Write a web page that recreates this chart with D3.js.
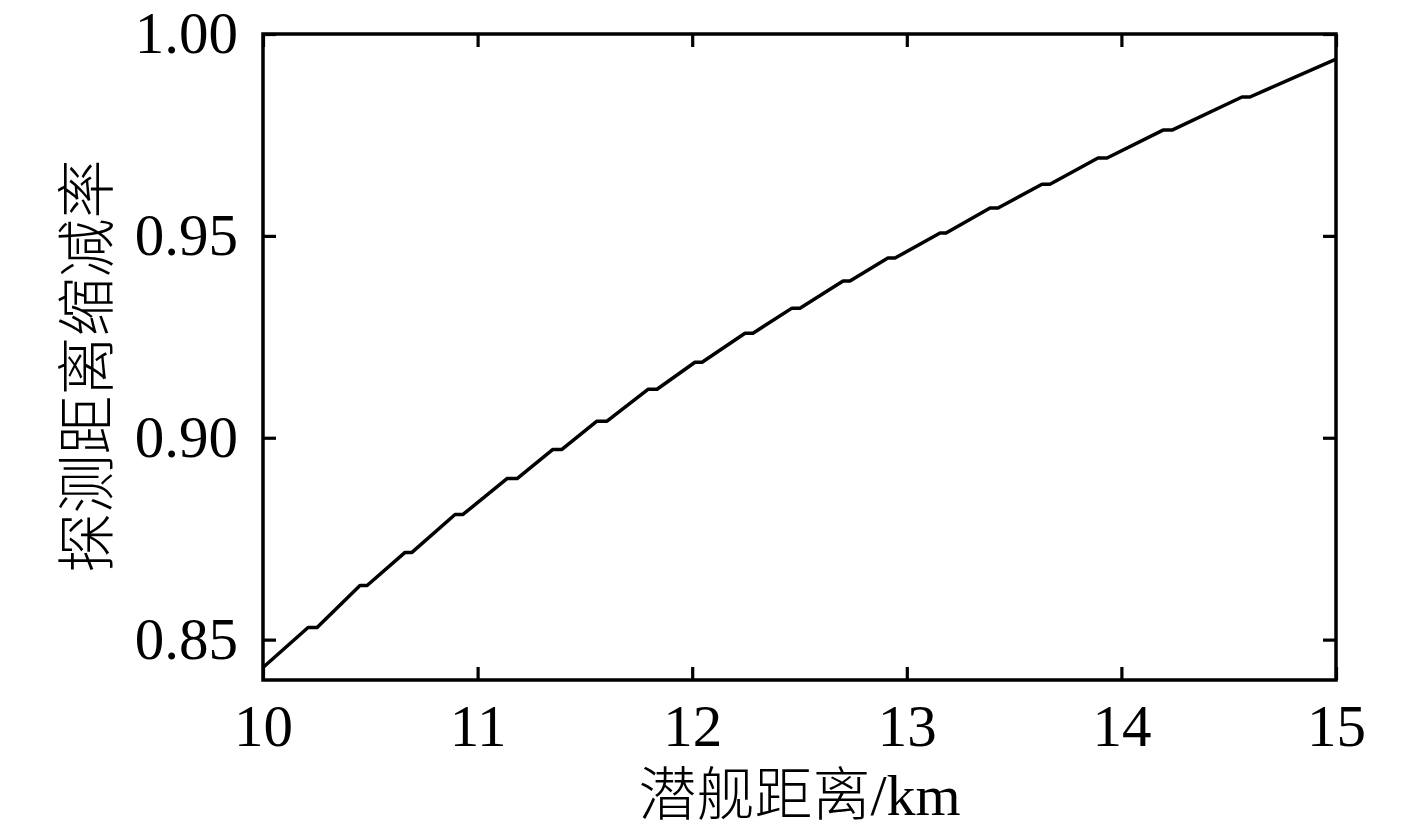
<!DOCTYPE html>
<html>
<head>
<meta charset="utf-8">
<script src="https://cdn.jsdelivr.net/npm/d3@7"></script>
<style>
  html, body { margin: 0; padding: 0; background: #fff; }
  svg { display: block; }
  .tick text { font-family: "Liberation Serif", "Times New Roman", serif; font-size: 59px; fill: #000; }
</style>
</head>
<body>
<svg id="chart" width="1417" height="830"></svg>
<script>
// Submarine distance (km)
const distance = [10.000, 10.210, 10.252, 10.452, 10.485, 10.662, 10.694, 10.895, 10.932,
  11.137, 11.184, 11.351, 11.393, 11.556, 11.603, 11.794, 11.836, 12.013, 12.046,
  12.246, 12.283, 12.465, 12.502, 12.703, 12.735, 12.912, 12.945, 13.155, 13.183,
  13.388, 13.425, 13.630, 13.667, 13.891, 13.933, 14.194, 14.236, 14.562, 14.599, 15.000];
// Detection range reduction rate
const rate = [0.8431, 0.8530, 0.8530, 0.8634, 0.8634, 0.8716, 0.8716, 0.8810, 0.8810,
  0.8899, 0.8899, 0.8971, 0.8971, 0.9041, 0.9041, 0.9120, 0.9120, 0.9187, 0.9187,
  0.9259, 0.9259, 0.9321, 0.9321, 0.9388, 0.9388, 0.9445, 0.9445, 0.9507, 0.9507,
  0.9569, 0.9569, 0.9628, 0.9628, 0.9693, 0.9693, 0.9762, 0.9762, 0.9844, 0.9844, 0.9938];
const xTicks = [10, 11, 12, 13, 14, 15];
const yTicks = [0.85, 0.90, 0.95, 1.00];
const xDomain = [10, 15];
const yDomain = [0.84, 1.00];
const xTitle = "潜舰距离/km";
const yTitle = "探测距离缩减率";

const svg = d3.select("#chart");
const L = 263, R = 1336, T = 34, B = 680;
const x = d3.scaleLinear().domain(xDomain).range([L, R]);
const y = d3.scaleLinear().domain(yDomain).range([B, T]);

function styleAxis(g) {
  g.select(".domain").remove();
  g.selectAll(".tick line").attr("stroke", "#000").attr("stroke-width", 3.2);
}

svg.append("g").attr("transform", `translate(0,${B})`)
  .call(d3.axisBottom(x).tickValues(xTicks).tickFormat(d3.format("d")).tickSizeInner(-13).tickSizeOuter(0).tickPadding(24))
  .call(styleAxis);
svg.append("g").attr("transform", `translate(0,${T})`)
  .call(d3.axisTop(x).tickValues(xTicks).tickFormat("").tickSizeInner(-13).tickSizeOuter(0))
  .call(styleAxis);
svg.append("g").attr("transform", `translate(${L},0)`)
  .call(d3.axisLeft(y).tickValues(yTicks).tickFormat(d3.format(".2f")).tickSizeInner(-13).tickSizeOuter(0).tickPadding(25))
  .call(styleAxis);
svg.append("g").attr("transform", `translate(${R},0)`)
  .call(d3.axisRight(y).tickValues(yTicks).tickFormat("").tickSizeInner(-13).tickSizeOuter(0))
  .call(styleAxis);

// frame
svg.append("rect")
  .attr("x", L).attr("y", T).attr("width", R - L).attr("height", B - T)
  .attr("fill", "none").attr("stroke", "#000").attr("stroke-width", 3.5);

// line
const pts = distance.map((d, i) => [d, rate[i]]);
svg.append("path")
  .datum(pts)
  .attr("fill", "none")
  .attr("stroke", "#000")
  .attr("stroke-width", 3.5)
  .attr("stroke-linejoin", "round")
  .attr("d", d3.line().x(d => x(d[0])).y(d => y(d[1])));

// titles
svg.append("text")
  .attr("x", (L + R) / 2).attr("y", 815)
  .attr("text-anchor", "middle")
  .style("font-family", "'Liberation Serif', 'Noto Sans CJK SC', serif")
  .style("font-size", "58px")
  .style("font-weight", 300)
  .text(xTitle);

svg.append("text")
  .attr("transform", `translate(108,366) rotate(-90)`)
  .attr("text-anchor", "middle")
  .style("font-family", "'Noto Sans CJK SC', sans-serif")
  .style("font-size", "59px")
  .style("font-weight", 300)
  .text(yTitle);
</script>
</body>
</html>
